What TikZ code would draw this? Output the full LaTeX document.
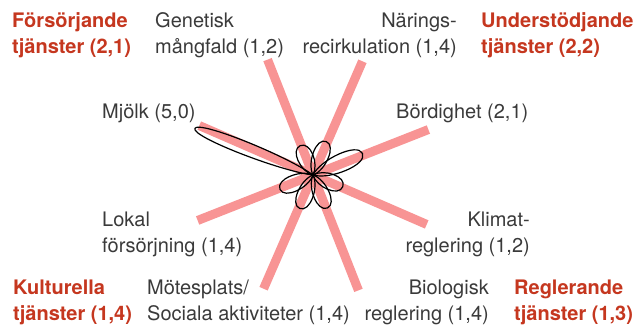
\documentclass[tikz,border=0pt]{standalone}
\usepackage{fontspec}
\setmainfont{TeX Gyre Heros}
\usetikzlibrary{calc}
\definecolor{raypink}{HTML}{F89494}
\definecolor{catred}{HTML}{C5371F}
\definecolor{labelgray}{HTML}{3a3a3a}
\newcommand\flowerpetal[3]{%
  \draw[petalline, shift={(c)}, rotate=#1]
    (0,0) .. controls (0.25*#2,1.2*#3) and (#2,1.3*#3) .. (#2,0)
          .. controls (#2,-1.3*#3) and (0.25*#2,-1.2*#3) .. (0,0);}
\begin{document}
\begin{tikzpicture}[x=1pt,y=-1pt,
  ray/.style={draw=raypink, line width=9pt},
  petalline/.style={draw=black, line width=1.2pt, line join=round},
  lbl/.style={inner sep=0pt, text=labelgray, font=\fontsize{20}{26}\selectfont},
  cat/.style={inner sep=0pt, text=catred, font=\bfseries\fontsize{20}{26}\selectfont},
]
\useasboundingbox (0,0) rectangle (637,324);
\coordinate (c) at (313,175);
% ray ends
\coordinate (rBor) at ($(c)+(23.5:124)$);
\coordinate (rNar) at ($(c)+(68.5:124)$);
\coordinate (rGen) at ($(c)+(113.5:124)$);
\coordinate (rMjo) at ($(c)+(158.5:124)$);
\coordinate (rLok) at ($(c)+(203.5:124)$);
\coordinate (rMot) at ($(c)+(248.5:124)$);
\coordinate (rBio) at ($(c)+(293.5:124)$);
\coordinate (rKli) at ($(c)+(338.5:124)$);
\foreach \e in {rBor,rNar,rGen,rMjo,rLok,rMot,rBio,rKli}
  \draw[ray] (c) -- (\e);
% petals
\flowerpetal{23.5}{54}{9.5}
\flowerpetal{68.5}{36}{8.5}
\flowerpetal{113.5}{32}{8.5}
\flowerpetal{158.5}{127}{7}
\flowerpetal{203.5}{36}{8.5}
\flowerpetal{248.5}{36}{8.5}
\flowerpetal{293.5}{36}{8.5}
\flowerpetal{338.5}{32}{8.5}
% labels (base anchor = baseline of last line)
\node[cat, anchor=base west, align=left] (fors) at (12,53) {Försörjande\\tjänster (2,1)};
\node[lbl, anchor=base west, align=left] (gen) at (155,53) {Genetisk\\mångfald (1,2)};
\node[lbl, anchor=base east, align=right] (nar) at (457,53) {Närings-\\recirkulation (1,4)};
\node[cat, anchor=base west, align=left] (und) at (481,53) {Understödjande\\tjänster (2,2)};
\node[lbl, anchor=base west] (mjo) at (102,118) {Mjölk (5,0)};
\node[lbl, anchor=base west] (bor) at (396,118) {Bördighet (2,1)};
\node[lbl, anchor=base west, align=left] (lok) at (102,252) {Lokal\\försörjning (1,4)};
\node[lbl, anchor=base east, align=right] (kli) at (530,252) {Klimat-\\reglering (1,2)};
\node[cat, anchor=base west, align=left] (kul) at (13,320) {Kulturella\\tjänster (1,4)};
\node[lbl, anchor=base west, align=left] (mot) at (147,320) {Mötesplats/\\Sociala aktiviteter (1,4)};
\node[lbl, anchor=base east, align=right] (bio) at (489,320) {Biologisk\\reglering (1,4)};
\node[cat, anchor=base west, align=left] (reg) at (514,320) {Reglerande\\tjänster (1,3)};
\end{tikzpicture}
\end{document}
